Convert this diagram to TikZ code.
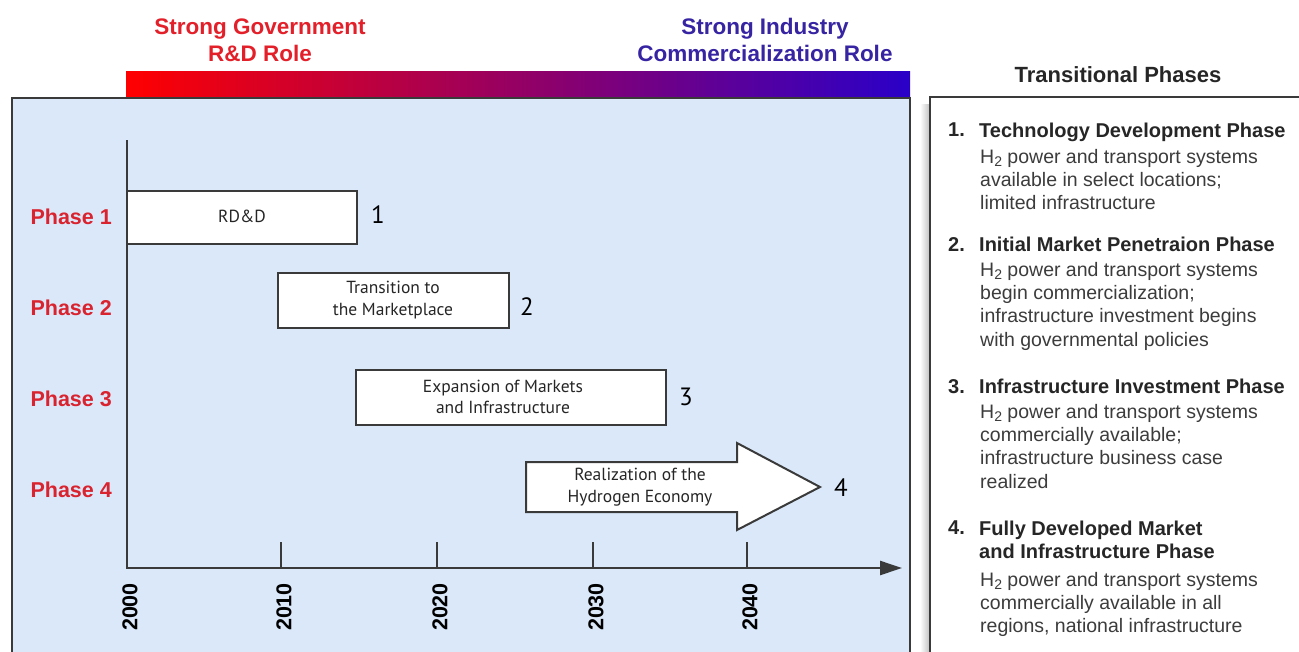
\documentclass[tikz,border=0pt]{standalone}
\usepackage{fontspec}
\setmainfont{Liberation Sans}
\newfontfamily\barfont{PT Sans}
\usetikzlibrary{arrows.meta}
\definecolor{bgblue}{HTML}{DAE8FA}
\definecolor{hred}{HTML}{E3202A}
\definecolor{hblue}{HTML}{3624A2}
\definecolor{phred}{HTML}{D9232E}
\definecolor{gradred}{HTML}{FF0000}
\definecolor{gradblue}{HTML}{2A00C8}
\definecolor{edge}{HTML}{3A3A3A}
\definecolor{bodygray}{HTML}{3C3C3C}
\newcommand\Htwo{H\raisebox{-3.5pt}{\fontsize{14}{14}\selectfont 2}}
\tikzset{
  hdr/.style={font=\fontsize{22.5}{27}\selectfont\bfseries, align=center},
  phaselbl/.style={font=\fontsize{21.5}{24}\selectfont\bfseries, text=phred, anchor=east, inner sep=0},
  barbox/.style={draw=edge, line width=2pt, fill=white, inner sep=0},
  bartext/.style={font=\barfont\fontsize{17.5}{21.5}\selectfont, align=center, text=black!85},
  numlbl/.style={font=\barfont\fontsize{25}{25}\selectfont, inner sep=0},
  yearlbl/.style={font=\fontsize{21.5}{21.5}\selectfont\bfseries, rotate=90, inner sep=0},
  axisline/.style={line width=2.5pt, draw=edge},
  tick/.style={line width=2pt, draw=edge},
  itemhead/.style={font=\fontsize{20}{23}\selectfont\bfseries, text=black!85, anchor=north west, inner sep=0, align=left},
  itembody/.style={font=\fontsize{19.5}{23.3}\selectfont, text=bodygray, anchor=north west, inner sep=0, align=left},
}
\begin{document}
\begin{tikzpicture}[x=1pt,y=-1pt]
\useasboundingbox (0,0) rectangle (1299,651);
% header
\node[hdr, text=hred] (gov) at (260,40) {Strong Government\\R\&D Role};
\node[hdr, text=hblue] (ind) at (765,40) {Strong Industry\\Commercialization Role};
\node[font=\fontsize{22}{24}\selectfont\bfseries, text=black!85] (tp) at (1118,75) {Transitional Phases};
% gradient bar
\shade[left color=gradred, right color=gradblue] (126,71) rectangle (910,98);
% main box
\draw[line width=2pt, draw=edge, fill=bgblue] (12,98) rectangle (910,680);
% right box shadow and box
\shade[left color=white, right color=black!25] (920,104) rectangle (930,680);
\draw[line width=2pt, draw=edge, fill=white] (930,97) rectangle (1320,680);
% axes
\coordinate (ytop) at (127,140);
\coordinate (o) at (127,568);
\coordinate (xend) at (902,568);
\draw[axisline, -{Triangle[length=22pt,width=14pt]}] (ytop) -- (o) -- (xend);
% ticks and years
\foreach \x/\yr in {127/2000,281/2010,437/2020,593/2030,747/2040}{
  \ifnum\yr>2000 \draw[tick] (\x,542) -- (\x,568); \fi
  \node[yearlbl] (y\yr) at (\x+3,607) {\yr};
}
% phase labels
\node[phaselbl] (p1) at (112,217) {Phase 1};
\node[phaselbl] (p2) at (112,308) {Phase 2};
\node[phaselbl] (p3) at (112,399) {Phase 3};
\node[phaselbl] (p4) at (112,490) {Phase 4};
% bars
\node[barbox, minimum width=230pt, minimum height=53pt] (b1) at (242,217.5) {};
\node[bartext] (t1) at (242,216) {RD\&D};
\node[numlbl] (n1) at (378,215) {1};
\node[barbox, minimum width=231pt, minimum height=55pt] (b2) at (393.5,300.5) {};
\node[bartext] (t2) at (393,300) {Transition to\\the Marketplace};
\node[numlbl] (n2) at (527,307) {2};
\node[barbox, minimum width=310pt, minimum height=55pt] (b3) at (511,397.5) {};
\node[bartext] (t3) at (503,397) {Expansion of Markets\\and Infrastructure};
\node[numlbl] (n3) at (686,397) {3};
% arrow phase 4
\draw[draw=edge, line width=2pt, fill=white, line join=miter]
  (526,462) -- (737,462) -- (737,443) -- (820,487) -- (737,530) -- (737,512) -- (526,512) -- cycle;
\node[bartext] (t4) at (640,487) {Realization of the\\Hydrogen Economy};
\node[numlbl] (n4) at (841,488) {4};
% right list
\node[itemhead] (h1n) at (948,123) {1.};
\node[itemhead] (h1) at (979,123) {Technology Development Phase};
\node[itembody] (d1) at (980,149) {\Htwo{} power and transport systems\\available in select locations;\\limited infrastructure};
\node[itemhead] (h2n) at (948,237) {2.};
\node[itemhead] (h2) at (979,237) {Initial Market Penetraion Phase};
\node[itembody] (d2) at (980,262) {\Htwo{} power and transport systems\\begin commercialization;\\infrastructure investment begins\\with governmental policies};
\node[itemhead] (h3n) at (948,379) {3.};
\node[itemhead] (h3) at (979,379) {Infrastructure Investment Phase};
\node[itembody] (d3) at (980,404) {\Htwo{} power and transport systems\\commercially available;\\infrastructure business case\\realized};
\node[itemhead] (h4n) at (948,521) {4.};
\node[itemhead] (h4) at (979,521) {Fully Developed Market\\and Infrastructure Phase};
\node[itembody] (d4) at (980,572) {\Htwo{} power and transport systems\\commercially available in all\\regions, national infrastructure};
\end{tikzpicture}
\end{document}
